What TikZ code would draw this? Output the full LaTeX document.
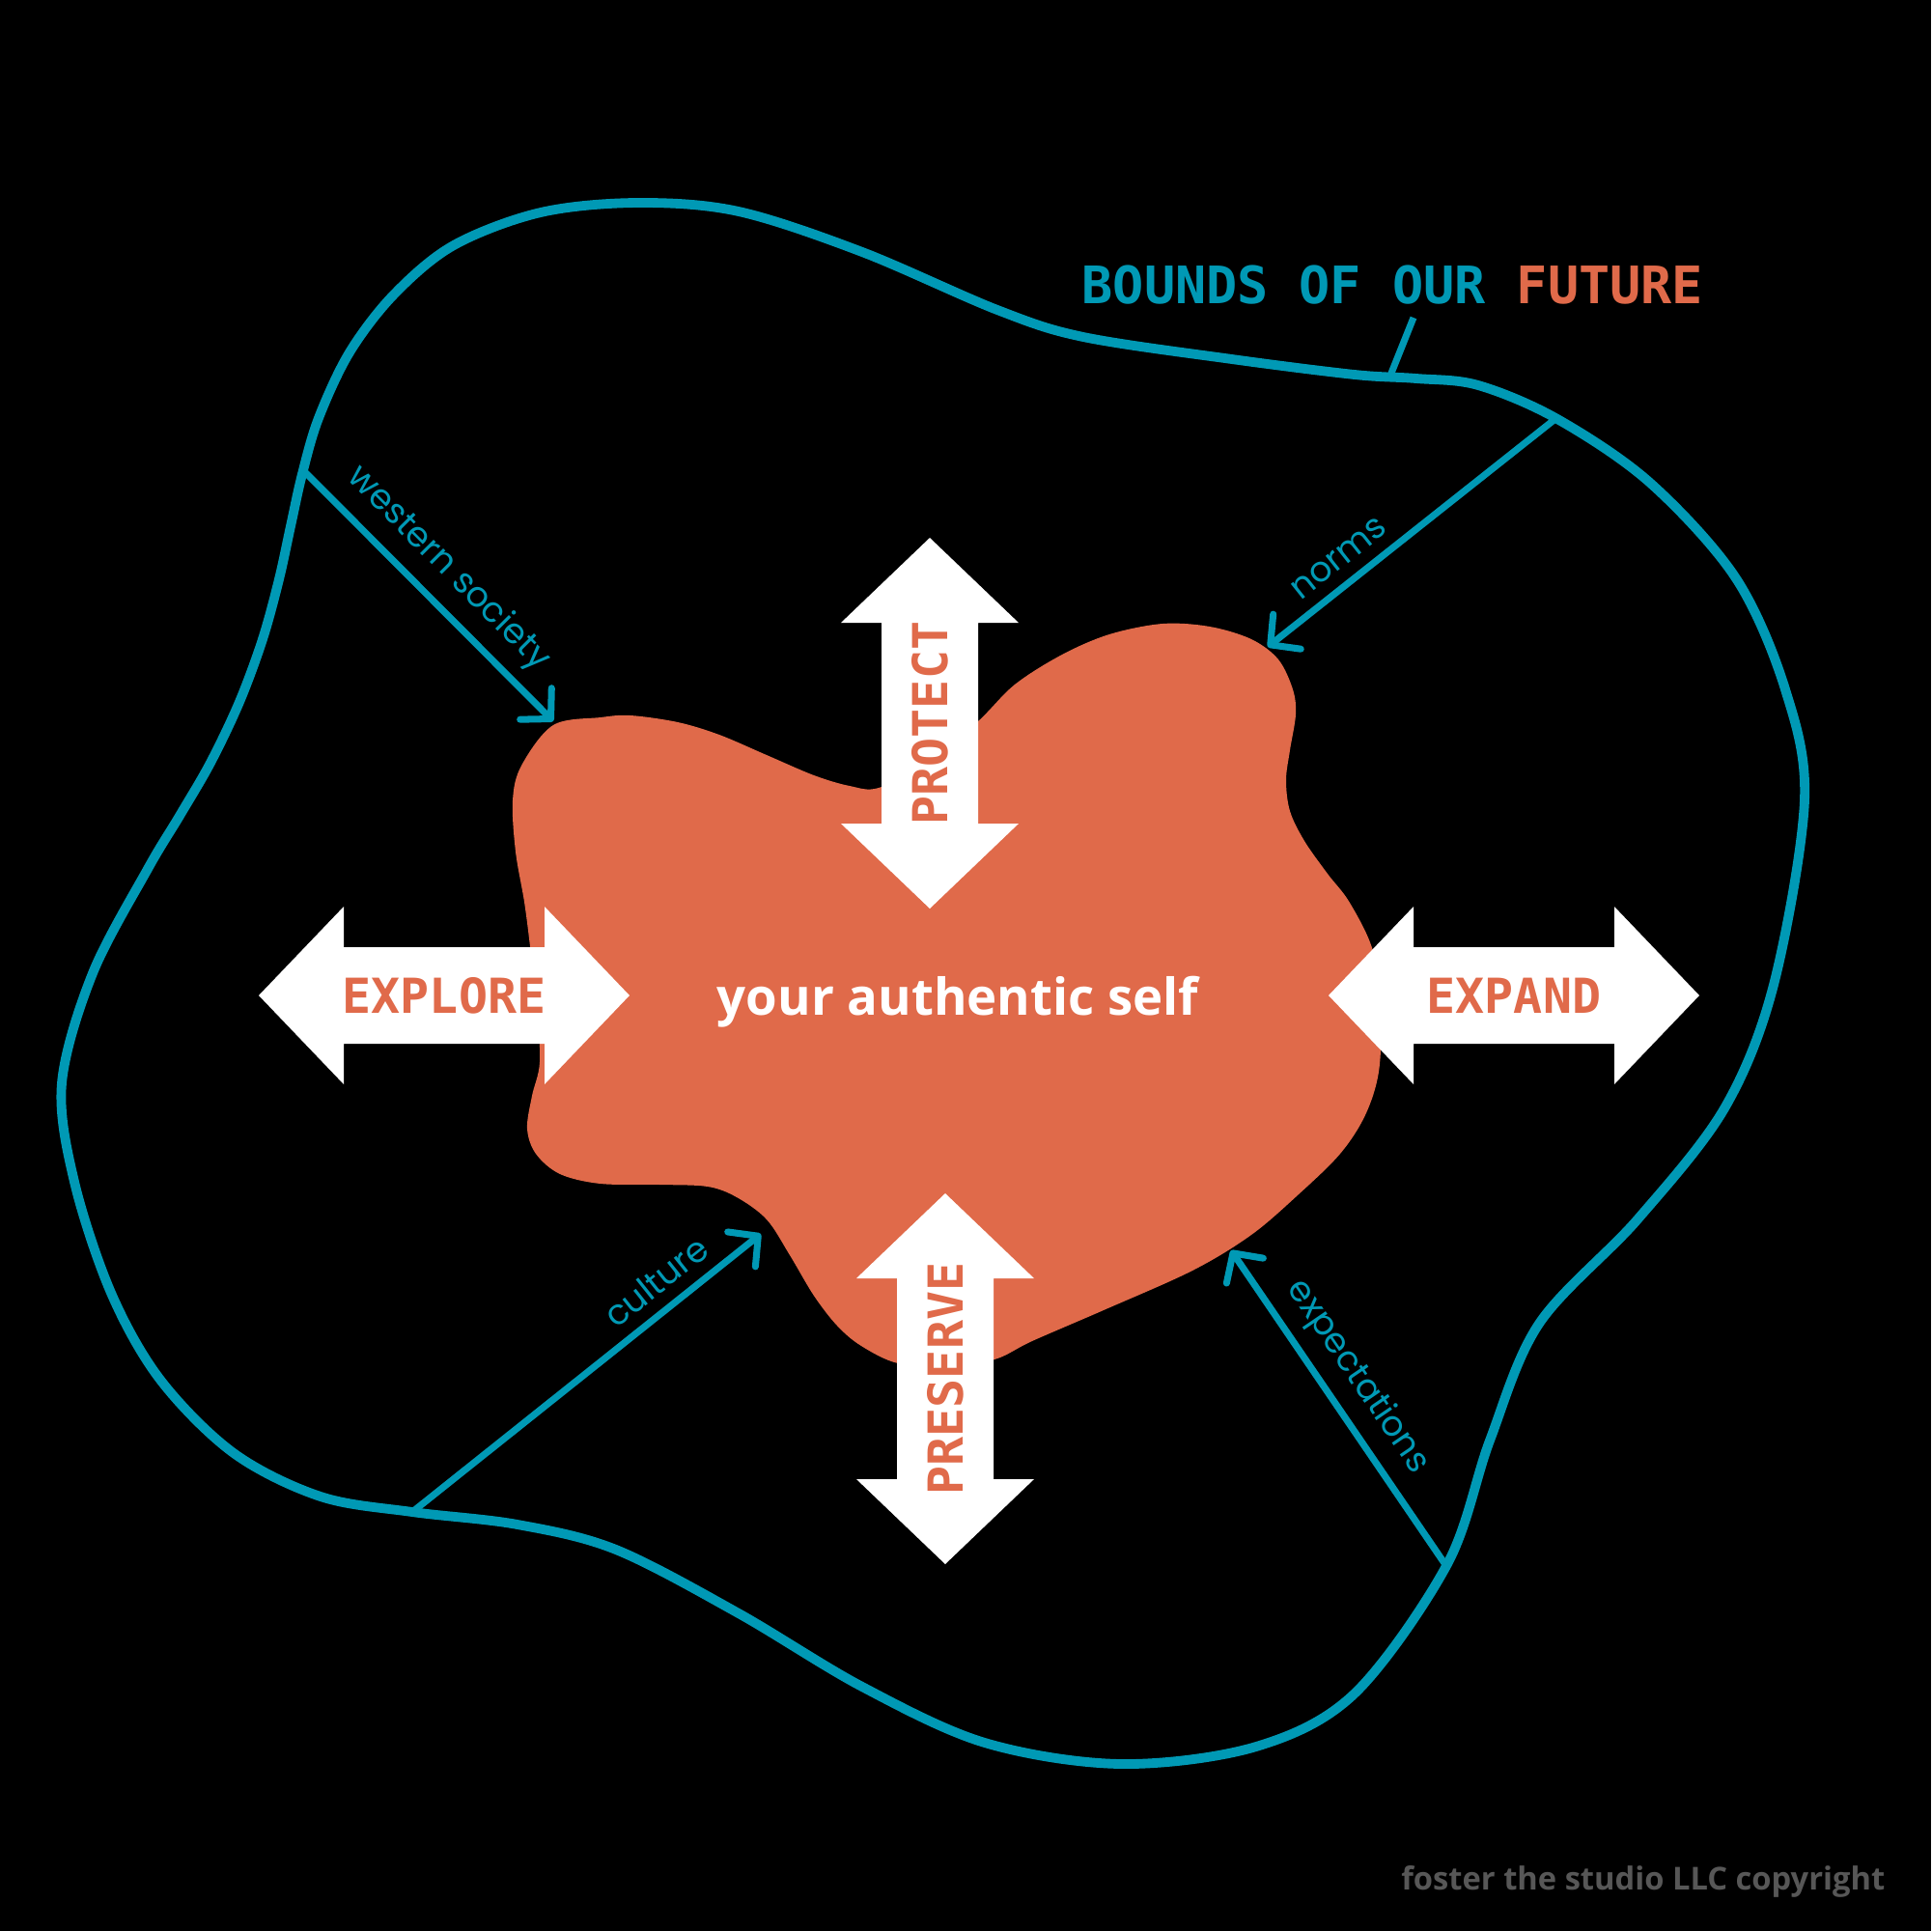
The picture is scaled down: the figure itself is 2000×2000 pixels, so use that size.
\documentclass[tikz,border=0pt]{standalone}
\usepackage{fontspec}
\usetikzlibrary{arrows.meta}
\newfontfamily\monofont{DejaVu Sans Mono}
\newfontfamily\selffont{Open Sans}
\newfontfamily\labelfont{Poppins}
\definecolor{boundcol}{HTML}{0099B5}
\definecolor{selfcol} {HTML}{E06A4A}
\definecolor{notecol} {HTML}{575757}
\tikzset{
  bound/.style={draw=boundcol, line width=2.8pt},
  pull/.style={draw=boundcol, line width=2pt, line cap=round,
               -{Straight Barb[length=2.2mm, width=4.6mm, round]}},
  lbl/.style={text=boundcol, font=\labelfont\fontsize{10.3}{12}\selectfont, inner sep=3.5pt},
  tag/.style={text=selfcol, inner sep=0pt, font=\monofont\bfseries\fontsize{14.2}{16}\selectfont},
  pics/dblarrow/.style={code={
    \fill[white] (-192,0) -- (-104,-92) -- (-104,-50) -- (104,-50) -- (104,-92)
      -- (192,0) -- (104,92) -- (104,50) -- (-104,50) -- (-104,92) -- cycle;}},
}

\begin{document}
\begin{tikzpicture}[x=0.1mm, y=-0.1mm]
  % ── page ─────────────────────────────────────────────────────────
  \fill[black] (0,0) rectangle (2000,2000);
  \useasboundingbox (0,0) rectangle (2000,2000);
  % ── outer bound ──────────────────────────────────────────────────
  \draw[bound] plot[smooth cycle, tension=0.55] coordinates {
    (661,210) (765,219) (893,261) (1033,321) (1122,349) (1276,372) (1403,388)
    (1467,392) (1531,399) (1613,434) (1709,500) (1798,599) (1849,714) (1869,829)
    (1837,1020) (1786,1148) (1696,1263) (1594,1371) (1543,1492) (1499,1620)
    (1403,1754) (1301,1809) (1161,1827) (1020,1805) (893,1747) (765,1671)
    (638,1605) (536,1579) (427,1566) (332,1550) (242,1505) (166,1429) (115,1339)
    (77,1224) (64,1122) (96,1008) (153,900) (186,845) (218,790) (248,727)
    (272,662) (289,600) (301,545) (313,491) (330,433) (362,365) (408,305)
    (470,254) (560,220)};
  % ── self blob ────────────────────────────────────────────────────
  \fill[selfcol] plot[smooth cycle, tension=0.55] coordinates {
    (573,751) (622,743) (653,741) (702,748) (745,761) (794,782) (843,803) (880,814)
    (910,816) (960,790) (1012,748) (1051,709) (1100,678) (1149,657) (1204,646)
    (1253,649) (1296,662) (1324,683) (1339,714) (1342,740) (1336,777) (1332,808)
    (1336,840) (1351,871) (1375,905) (1398,935) (1422,985) (1430,1050) (1428,1110)
    (1414,1155) (1388,1195) (1345,1237) (1296,1279) (1235,1316) (1143,1357)
    (1069,1389) (1030,1408) (980,1414) (930,1412) (892,1394) (867,1373) (843,1342)
    (818,1300) (794,1263) (763,1240) (733,1229) (684,1227) (622,1226) (580,1216)
    (555,1195) (546,1169) (551,1135) (559,1100) (556,1040) (549,980) (543,934)
    (534,882) (531,829) (540,793)};
  \node[text=white, font=\selffont\bfseries\fontsize{15}{18}\selectfont, anchor=base]
    (self) at (992,1051) {your authentic self};
  % ── white double arrows ──────────────────────────────────────────
  \pic at (460,1031) {dblarrow};
  \pic at (1568,1031) {dblarrow};
  \pic[rotate=90] at (963,749) {dblarrow};
  \pic[rotate=90] at (979,1428) {dblarrow};
  \node[tag] (explore) at (460,1031) {EXPLORE};
  \node[tag] (expand) at (1568,1031) {EXPAND};
  \node[tag, rotate=90] (protect) at (963,749) {PROTECT};
  \node[tag, rotate=90] (preserve) at (979,1428) {PRESERVE};
  % ── title ────────────────────────────────────────────────────────
  \node[font=\monofont\bfseries\fontsize{15.2}{18}\selectfont, anchor=base west, inner sep=0pt]
    (title) at (1120,314) {\textcolor{boundcol}{BOUNDS OF OUR }\textcolor{selfcol}{FUTURE}};
  \coordinate (tk_a) at (1464,329);
  \coordinate (tk_b) at (1440,389);
  \draw[boundcol, line width=2pt] (tk_a) -- (tk_b);
  % ── pulls on the self ────────────────────────────────────────────
  \coordinate (ws_a) at (317,490);   \coordinate (ws_b) at (573,747);
  \coordinate (nm_a) at (1612,433);  \coordinate (nm_b) at (1313,670);
  \coordinate (cu_a) at (427,1566);  \coordinate (cu_b) at (788,1278);
  \coordinate (xp_a) at (1498,1622); \coordinate (xp_b) at (1275,1295);
  \draw[pull] (ws_a) -- node[lbl, above, sloped, pos=0.48]{western society} (ws_b);
  \draw[pull] (nm_a) -- node[lbl, above, sloped, pos=0.70]{norms} (nm_b);
  \draw[pull] (cu_a) -- node[lbl, above, sloped, pos=0.75]{culture} (cu_b);
  \draw[pull] (xp_a) -- node[lbl, above, sloped, pos=0.54]{expectations} (xp_b);
  % ── credit ───────────────────────────────────────────────────────
  \node[text=notecol, font=\selffont\bfseries\fontsize{9.3}{11}\selectfont, anchor=base east, inner sep=0pt]
    (credit) at (1953,1957) {foster the studio LLC copyright};
\end{tikzpicture}
\end{document}
